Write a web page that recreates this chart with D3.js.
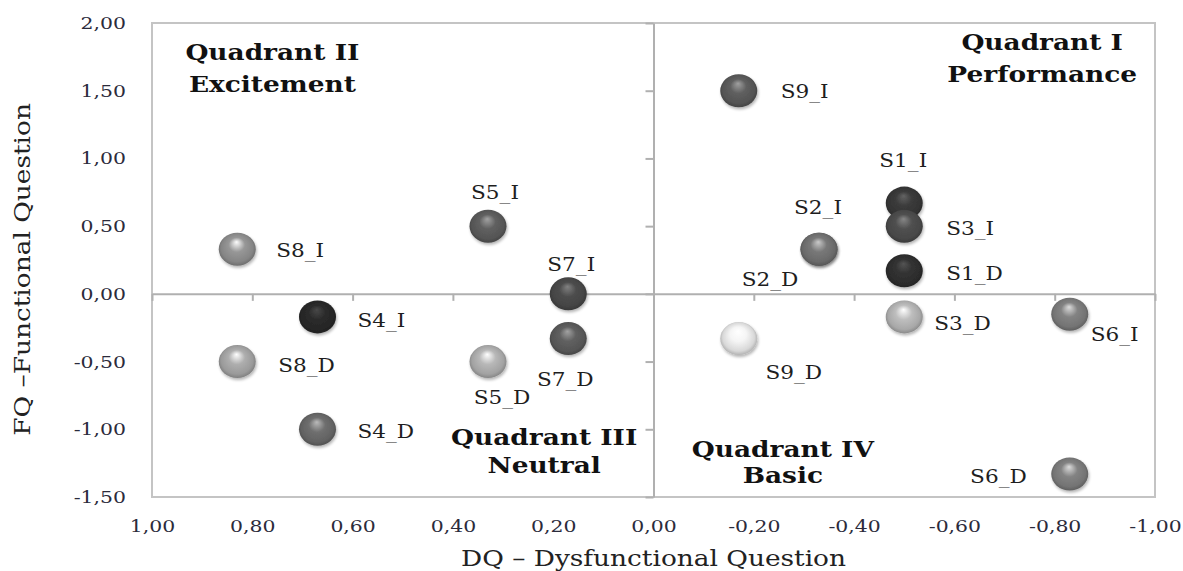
<!DOCTYPE html>
<html>
<head>
<meta charset="utf-8">
<script src="https://cdn.jsdelivr.net/npm/d3@7"></script>
<style>
  body { margin: 0; background: #fff; }
  text { font-family: "DejaVu Serif", serif; }
</style>
</head>
<body>
<script>
// Kano DQ / FQ scatter
var labels = ["S1_I", "S1_D", "S2_D", "S2_I", "S3_I", "S3_D", "S4_I", "S4_D", "S5_I",
              "S5_D", "S6_I", "S6_D", "S7_I", "S7_D", "S8_I", "S8_D", "S9_I", "S9_D"];
var dq = [-0.50, -0.50, -0.33, -0.33, -0.50, -0.50, 0.67, 0.67, 0.33,
          0.33, -0.83, -0.83, 0.17, 0.17, 0.83, 0.83, -0.17, -0.17];
var fq = [0.67, 0.17, 0.33, 0.33, 0.50, -0.17, -0.17, -1.00, 0.50,
          -0.50, -0.15, -1.33, 0.00, -0.33, 0.33, -0.50, 1.50, -0.33];

var xTicks = [1, 0.8, 0.6, 0.4, 0.2, 0, -0.2, -0.4, -0.6, -0.8, -1];
var yTicks = [2, 1.5, 1, 0.5, 0, -0.5, -1, -1.5];

var quadrantTitles = [["Quadrant I", "Performance"], ["Quadrant II", "Excitement"],
                      ["Quadrant III", "Neutral"], ["Quadrant IV", "Basic"]];

// layout / style bits (not data)
var quadPos = [[-0.775, 1.80, 32], [0.76, 1.73, 32], [0.218, -1.115, 28], [-0.258, -1.204, 26]];
var shade = {
  S1_I: "#343434", S1_D: "#2c2c2c", S2_I: "#6a6a6a", S2_D: "#6a6a6a", S3_I: "#474747",
  S3_D: "#a8a8a8", S4_I: "#262626", S4_D: "#626262", S5_I: "#555555", S5_D: "#a2a2a2",
  S6_I: "#747474", S6_D: "#747474", S7_I: "#444444", S7_D: "#555555", S8_I: "#858585",
  S8_D: "#9a9a9a", S9_I: "#545454", S9_D: "#d8d8d8"
};
var labelPos = {
  S9_I: [42, 7, "start"], S8_I: [39, 8, "start"], S5_I: [7, -27, "middle"],
  S7_I: [3, -23, "middle"], S1_I: [-1, -36, "middle"], S2_I: [-1, -35, "middle"],
  S3_I: [42, 9, "start"], S1_D: [42, 9, "start"], S2_D: [-49, 37, "middle"],
  S4_I: [40, 10, "start"], S8_D: [41, 10, "start"], S4_D: [40, 9, "start"],
  S5_D: [14, 42, "middle"], S7_D: [-3, 47, "middle"], S9_D: [55, 40, "middle"],
  S3_D: [30, 13, "start"], S6_I: [21, 27, "start"], S6_D: [-43, 9, "end"]
};
var sx = 1.2; // the source type is a bit wide

var width = 1183, height = 571;
var margin = {top: 23, right: 28, bottom: 74, left: 152};

var svg = d3.select("body").append("svg")
    .attr("width", width)
    .attr("height", height);

var x = d3.scaleLinear().domain([1, -1]).range([margin.left, width - margin.right]);
var y = d3.scaleLinear().domain([2, -1.5]).range([margin.top, height - margin.bottom]);

var fmt = d3.formatLocale({decimal: ",", thousands: ".", grouping: [3], currency: ["", ""], minus: "-"}).format(".2f");

var pts = labels.map(function(l, i) { return {label: l, dq: dq[i], fq: fq[i]}; });

// gradients for the balls
var defs = svg.append("defs");
pts.forEach(function(d, i) {
  var c = d3.color(shade[d.label]);
  var g = defs.append("radialGradient").attr("id", "ball" + i)
      .attr("cx", "50%").attr("cy", "50%").attr("r", "55%")
      .attr("fx", "48%").attr("fy", "28%");
  g.append("stop").attr("offset", "0%").attr("stop-color", c.brighter(1.8));
  g.append("stop").attr("offset", "40%").attr("stop-color", c.brighter(0.35));
  g.append("stop").attr("offset", "78%").attr("stop-color", c);
  g.append("stop").attr("offset", "100%").attr("stop-color", c.darker(0.8));
});
var f = defs.append("filter").attr("id", "soft").attr("x", "-30%").attr("y", "-30%").attr("width", "160%").attr("height", "160%");
f.append("feGaussianBlur").attr("in", "SourceAlpha").attr("stdDeviation", 1.5).attr("result", "b");
f.append("feOffset").attr("in", "b").attr("dx", 1).attr("dy", 2).attr("result", "o");
f.append("feComponentTransfer").attr("in", "o").attr("result", "s")
  .append("feFuncA").attr("type", "linear").attr("slope", 0.3);
var fm = f.append("feMerge");
fm.append("feMergeNode").attr("in", "s");
fm.append("feMergeNode").attr("in", "SourceGraphic");

// frame
svg.append("rect")
  .attr("x", x(1)).attr("y", y(2))
  .attr("width", x(-1) - x(1)).attr("height", y(-1.5) - y(2))
  .attr("fill", "none").attr("stroke", "#c4c4c4").attr("stroke-width", 2);

// zero lines with tick marks
var xZero = svg.append("g")
  .attr("transform", "translate(0," + y(0) + ")")
  .call(d3.axisBottom(x).tickValues(xTicks).tickSize(7).tickSizeOuter(0).tickFormat(""));
var yZero = svg.append("g")
  .attr("transform", "translate(" + x(0) + ",0)")
  .call(d3.axisLeft(y).tickValues(yTicks).tickSize(8).tickSizeOuter(0).tickFormat(""));
[xZero, yZero].forEach(function(a) {
  a.selectAll("path, line").attr("stroke", "#b0b0b0").attr("stroke-width", 2);
});

// tick labels
var xLab = svg.append("g")
  .attr("transform", "translate(0," + y(-1.5) + ")")
  .call(d3.axisBottom(x).tickValues(xTicks).tickSize(0).tickFormat(fmt));
xLab.select(".domain").remove();
xLab.selectAll("text")
  .attr("y", 35).attr("dy", null)
  .attr("transform", "scale(" + sx + ",1)")
  .attr("font-family", "DejaVu Serif").attr("font-size", 17).attr("fill", "#2b2b3b");

var yLab = svg.append("g")
  .attr("transform", "translate(" + x(1) + ",0)")
  .call(d3.axisLeft(y).tickValues(yTicks).tickSize(0).tickFormat(fmt));
yLab.select(".domain").remove();
yLab.selectAll("text")
  .attr("x", -26 / sx)
  .attr("transform", "scale(" + sx + ",1)")
  .attr("font-family", "DejaVu Serif").attr("font-size", 17).attr("fill", "#2b2b3b");

// quadrant titles
quadrantTitles.forEach(function(q, i) {
  var p = quadPos[i];
  var t = svg.append("text")
    .attr("transform", "translate(" + x(p[0]) + "," + y(p[1]) + ") scale(" + sx + ",1)")
    .attr("text-anchor", "middle")
    .attr("font-size", 22).attr("font-weight", "bold").attr("fill", "#111");
  t.append("tspan").attr("x", 0).attr("y", 0).text(q[0]);
  t.append("tspan").attr("x", 0).attr("y", p[2]).text(q[1]);
});

// balls
svg.selectAll(".ball").data(pts).enter()
  .append("ellipse")
  .attr("class", "ball")
  .attr("cx", function(d) { return x(d.dq); })
  .attr("cy", function(d) { return y(d.fq); })
  .attr("rx", 18.5).attr("ry", 16.5)
  .attr("fill", function(d, i) { return "url(#ball" + i + ")"; })
  .attr("filter", "url(#soft)");

// point labels
svg.selectAll(".plabel").data(pts).enter()
  .append("text")
  .attr("class", "plabel")
  .attr("transform", function(d) {
    var o = labelPos[d.label];
    return "translate(" + (x(d.dq) + o[0]) + "," + (y(d.fq) + o[1]) + ") scale(" + sx + ",1)";
  })
  .attr("text-anchor", function(d) { return labelPos[d.label][2]; })
  .attr("font-size", 18).attr("fill", "#1e1e1e")
  .text(function(d) { return d.label; });

// axis titles
svg.append("text")
  .attr("transform", "translate(" + x(0) + "," + (height - 5) + ") scale(" + sx + ",1)")
  .attr("text-anchor", "middle")
  .attr("font-size", 22).attr("fill", "#222")
  .text("DQ \u2013 Dysfunctional Question");

svg.append("text")
  .attr("transform", "translate(30," + y(0.18) + ") rotate(-90) scale(" + sx + ",1)")
  .attr("text-anchor", "middle")
  .attr("font-size", 22).attr("fill", "#222")
  .text("FQ \u2013Functional Question");
</script>
</body>
</html>
